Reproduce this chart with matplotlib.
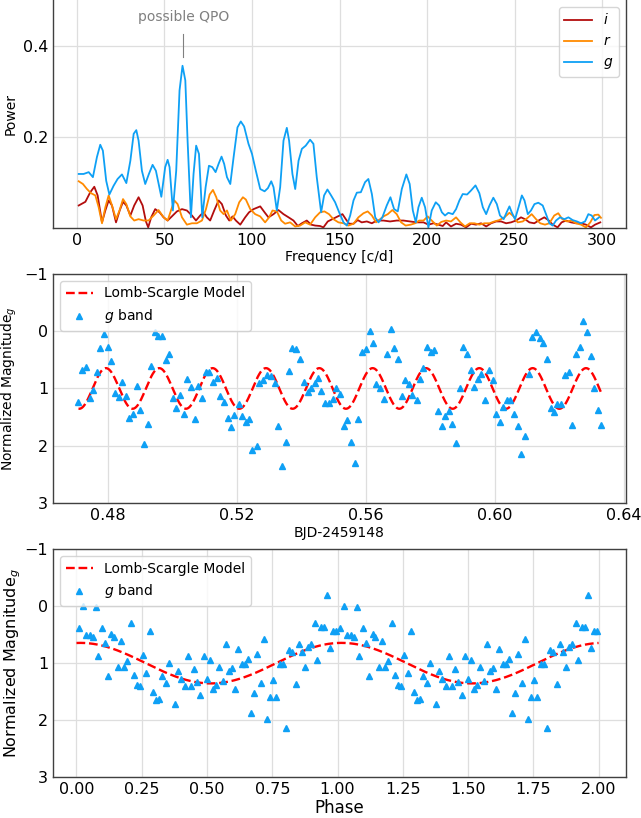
import matplotlib
matplotlib.use('Agg')
import matplotlib.pyplot as plt
import numpy as np

# --- periodogram ---
g_freq = [1, 3.8, 6.7, 9.1, 11.4, 13.3, 14.8, 16.7, 18.5, 20.9, 23.2, 25.7, 28.2, 30.5,
          32.4, 33.9, 35.2, 37.1, 39.0, 41.1, 43.2, 45.1, 48.2, 50.4, 51.8, 52.9, 54.8,
          56.7, 58.6, 60.3, 61.9, 63.2, 65.1, 66.6, 68.1, 69.7, 71.6, 73.5, 75.4, 77.3,
          79.2, 80.9, 82.6, 84.1, 85.7, 87.6, 89.5, 91.7, 93.6, 95.5, 98.0, 100, 102.2,
          104.7, 107.2, 109.1, 111.0, 112.3, 114.2, 116.1, 118.0, 119.9, 121.2, 123.1,
          124.7, 126.6, 128.5, 130.7, 133.2, 135.1, 137.0, 139.5, 141.2, 143.1, 145.2,
          147.5, 149.8, 152.3, 154.2, 156.1, 158.0, 159.9, 162.2, 164.6, 166.5, 168.5,
          170.4, 172.3, 174.5, 177.0, 179.1, 181.2, 183.3, 185.6, 188.2, 190.1, 191.9,
          193.6, 195.1, 197.0, 198.9, 200.8, 202.7, 205.0, 206.9, 208.5, 210.3, 212.2,
          214.7, 216.6, 218.5, 220.4, 222.9, 225.2, 227.7, 229.9, 231.9, 233.8, 235.7,
          237.9, 239.9, 241.7, 243.8, 245.5, 247.1, 248.4, 250.3, 252.3, 254.2, 255.7,
          257.6, 259.4, 261.4, 263.6, 266.1, 268.0, 269.9, 271.8, 273.7, 276.0, 278.5,
          280.8, 283.2, 285.7, 288.0, 290.3, 292.2, 294.1, 296.0, 298.3]
g_power = [0.119, 0.119, 0.123, 0.112, 0.156, 0.183, 0.170, 0.104, 0.074, 0.093, 0.108,
           0.118, 0.099, 0.148, 0.207, 0.215, 0.192, 0.126, 0.097, 0.119, 0.139, 0.126,
           0.069, 0.134, 0.150, 0.134, 0.039, 0.126, 0.302, 0.356, 0.324, 0.192, 0.024,
           0.119, 0.181, 0.163, 0.024, 0.090, 0.137, 0.134, 0.123, 0.141, 0.157, 0.141,
           0.112, 0.097, 0.156, 0.221, 0.234, 0.223, 0.185, 0.163, 0.126, 0.086, 0.081,
           0.088, 0.103, 0.090, 0.039, 0.090, 0.192, 0.220, 0.192, 0.119, 0.086, 0.148,
           0.174, 0.181, 0.194, 0.185, 0.112, 0.035, 0.072, 0.085, 0.072, 0.057, 0.035,
           0.013, 0.006, 0.028, 0.061, 0.078, 0.079, 0.101, 0.108, 0.075, 0.024, 0.013,
           0.024, 0.050, 0.068, 0.042, 0.037, 0.086, 0.118, 0.097, 0.039, 0.013, 0.046,
           0.067, 0.046, 0.002, 0.039, 0.057, 0.050, 0.035, 0.028, 0.034, 0.031, 0.042,
           0.061, 0.075, 0.074, 0.083, 0.094, 0.077, 0.046, 0.031, 0.050, 0.067, 0.053,
           0.028, 0.020, 0.035, 0.048, 0.035, 0.020, 0.046, 0.072, 0.061, 0.031, 0.039,
           0.053, 0.056, 0.050, 0.031, 0.011, 0.006, 0.017, 0.024, 0.020, 0.024, 0.018,
           0.015, 0.011, 0.015, 0.031, 0.028, 0.017, 0.024]

r_freq = [1, 3.4, 5.7, 8.0, 10.5, 12.4, 14.3, 16.2, 18.1, 20.0, 22.3, 24.4, 26.3, 28.2,
          30.5, 32.7, 35.2, 38.1, 40.9, 43.8, 46.6, 49.5, 51.8, 53.7, 55.6, 57.5, 60.0,
          62.8, 65.7, 68.5, 71.4, 73.7, 75.8, 77.7, 79.6, 81.8, 83.8, 85.7, 87.9, 90.4,
          92.7, 94.8, 96.5, 99.0, 101.8, 104.7, 107.5, 109.8, 111.7, 114.2, 116.7, 118.9,
          121.8, 124.7, 127.5, 130.4, 133.2, 136.1, 138.9, 141.4, 144.0, 146.5, 149.4,
          152.3, 155.1, 158.0, 160.8, 163.7, 166.1, 168.5, 170.9, 173.2, 175.1, 177.6,
          180.2, 182.7, 185.2, 187.8, 190.7, 193.2, 195.5, 198.0, 200.4, 202.7, 205.6,
          208.2, 210.9, 213.7, 216.6, 219.1, 221.7, 224.4, 227.1, 229.9, 232.8, 235.7,
          238.5, 241.3, 244.2, 247.1, 249.5, 251.8, 254.7, 257.5, 259.8, 262.3, 264.7,
          267.4, 269.9, 272.7, 275.0, 277.3, 280.0, 282.6, 285.1, 288.0, 290.8, 293.3,
          295.6, 297.9, 299.4]
r_power = [0.103, 0.097, 0.086, 0.077, 0.072, 0.046, 0.011, 0.046, 0.072, 0.050, 0.020,
           0.040, 0.064, 0.053, 0.026, 0.017, 0.020, 0.017, 0.017, 0.028, 0.040, 0.024,
           0.017, 0.039, 0.061, 0.053, 0.024, 0.008, 0.011, 0.011, 0.017, 0.042, 0.074,
           0.084, 0.068, 0.039, 0.031, 0.039, 0.017, 0.031, 0.057, 0.068, 0.063, 0.042,
           0.031, 0.026, 0.013, 0.024, 0.039, 0.037, 0.017, 0.010, 0.013, 0.004, 0.006,
           0.013, 0.008, 0.024, 0.035, 0.037, 0.031, 0.020, 0.013, 0.011, 0.006, 0.010,
           0.024, 0.033, 0.037, 0.028, 0.013, 0.020, 0.026, 0.031, 0.040, 0.031, 0.013,
           0.006, 0.008, 0.011, 0.017, 0.017, 0.026, 0.017, 0.006, 0.014, 0.017, 0.015,
           0.024, 0.013, 0.004, 0.011, 0.011, 0.008, 0.011, 0.011, 0.015, 0.018, 0.024,
           0.034, 0.026, 0.013, 0.015, 0.023, 0.031, 0.020, 0.011, 0.008, 0.011, 0.028,
           0.033, 0.020, 0.015, 0.017, 0.011, 0.008, 0.002, 0.013, 0.029, 0.030, 0.023]

i_freq = [1, 4.8, 7.6, 9.9, 11.8, 14.3, 16.2, 18.1, 20.0, 22.3, 24.4, 26.3, 28.2, 30.5,
          32.7, 35.2, 37.5, 39.4, 40.7, 42.4, 44.7, 47.2, 49.5, 51.8, 54.2, 57.1, 60.0,
          62.8, 65.7, 68.0, 70.4, 72.3, 74.2, 76.1, 78.4, 80.9, 82.8, 85.1, 87.0, 88.9,
          90.8, 93.3, 96.1, 98.3, 100.9, 104.7, 107.2, 109.4, 112.3, 115.1, 118.0, 120.9,
          123.7, 126.2, 128.5, 131.3, 133.8, 136.1, 138.9, 140.8, 143.3, 145.9, 149.0,
          151.7, 153.6, 155.5, 158.0, 160.4, 162.7, 165.6, 168.5, 171.3, 175.1, 178.9,
          182.7, 186.5, 190.3, 194.1, 198.0, 200.8, 203.7, 206.5, 209.0, 210.9, 213.7,
          216.6, 219.4, 222.3, 225.2, 228.0, 230.9, 233.8, 236.6, 239.5, 242.3, 245.2,
          248.0, 250.9, 253.7, 256.0, 258.5, 261.3, 264.2, 267.0, 269.3, 271.8, 274.6,
          276.9, 279.4, 282.3, 285.1, 288.0, 290.8, 293.7, 296.0, 299.0]
i_power = [0.050, 0.058, 0.079, 0.091, 0.072, 0.013, 0.039, 0.061, 0.050, 0.013, 0.039,
           0.058, 0.050, 0.028, 0.050, 0.068, 0.050, 0.015, 0.002, 0.024, 0.042, 0.035,
           0.024, 0.017, 0.026, 0.037, 0.042, 0.039, 0.028, 0.017, 0.028, 0.035, 0.024,
           0.017, 0.039, 0.061, 0.053, 0.028, 0.017, 0.026, 0.017, 0.008, 0.024, 0.035,
           0.042, 0.048, 0.035, 0.024, 0.031, 0.040, 0.031, 0.024, 0.017, 0.005, 0.011,
           0.017, 0.008, 0.006, 0.005, 0.002, 0.015, 0.020, 0.026, 0.031, 0.020, 0.010,
           0.010, 0.018, 0.013, 0.015, 0.011, 0.017, 0.017, 0.015, 0.017, 0.017, 0.015,
           0.013, 0.013, 0.008, 0.011, 0.008, 0.005, 0.013, 0.004, 0.010, 0.008, 0.002,
           0.010, 0.008, 0.011, 0.004, 0.011, 0.015, 0.015, 0.011, 0.013, 0.017, 0.024,
           0.020, 0.013, 0.011, 0.018, 0.024, 0.018, 0.008, 0.002, 0.013, 0.017, 0.013,
           0.011, 0.011, 0.008, 0.002, 0.008, 0.013]

# --- g-band light curve ---
bjd = [0.4709, 0.4719, 0.4732, 0.4744, 0.4754, 0.4766, 0.4776, 0.4788, 0.4800, 0.4810,
       0.4822, 0.4834, 0.4844, 0.4857, 0.4867, 0.4879, 0.4890, 0.4900, 0.4912, 0.4923,
       0.4934, 0.4945, 0.4956, 0.4968, 0.4979, 0.4989, 0.5001, 0.5012, 0.5024, 0.5035,
       0.5046, 0.5058, 0.5069, 0.5080, 0.5093, 0.5103, 0.5115, 0.5126, 0.5137, 0.5149,
       0.5159, 0.5171, 0.5182, 0.5192, 0.5205, 0.5216, 0.5227, 0.5239, 0.5248, 0.5261,
       0.5269,
       0.5280, 0.5293, 0.5305, 0.5317, 0.5328, 0.5339, 0.5351, 0.5362, 0.5372, 0.5384,
       0.5395, 0.5407, 0.5419, 0.5429, 0.5441, 0.5451, 0.5462, 0.5474, 0.5486, 0.5497,
       0.5507, 0.5519, 0.5531, 0.5542, 0.5553, 0.5565, 0.5576, 0.5587, 0.5599, 0.5611,
       0.5621, 0.5632, 0.5643, 0.5655, 0.5666, 0.5677, 0.5688, 0.5699, 0.5711, 0.5722,
       0.5734, 0.5744, 0.5757, 0.5767, 0.5778, 0.5789, 0.5801, 0.5812, 0.5824, 0.5835,
       0.5845, 0.5857, 0.5868, 0.5879,
       0.5891, 0.5902, 0.5914, 0.5925, 0.5935, 0.5947, 0.5958, 0.5970, 0.5981, 0.5993,
       0.6004, 0.6015, 0.6025, 0.6037, 0.6048, 0.6060, 0.6071, 0.6081, 0.6093, 0.6104,
       0.6116, 0.6127, 0.6139, 0.6150, 0.6161, 0.6172, 0.6183, 0.6193, 0.6205, 0.6216,
       0.6229, 0.6240, 0.6250, 0.6262, 0.6273, 0.6285, 0.6296, 0.6307, 0.6319, 0.6330]
mag_g = [1.24, 0.67, 0.63, 1.17, 1.02, 0.71, 0.29, 0.05, 0.27, 0.52,
         1.08, 1.15, 0.88, 1.14, 1.51, 1.45, 0.95, 1.38, 1.97, 1.62,
         0.60, 0.02, 0.08, 0.08, 0.50, 0.39, 1.17, 1.35, 1.11, 1.44,
         0.84, 0.98, 1.53, 0.95, 1.16, 0.72, 0.72, 0.89, 0.82, 1.13,
         1.24, 1.51, 1.67, 1.46, 1.28, 1.48, 1.58, 1.54, 2.08, 2.01,
         0.91,
         0.85, 0.77, 0.78, 0.91, 1.66, 2.35, 1.94, 0.70, 0.29, 0.31,
         0.49, 0.89, 1.07, 1.00, 0.90, 0.81, 1.04, 1.26, 1.26, 1.19,
         1.00, 1.09, 1.66, 1.55, 1.94, 2.30, 1.54, 0.36, 0.31, 0.00,
         0.21, 0.93, 0.99, 1.18, 0.40, -0.04, 0.29, 0.48, 1.14, 0.85,
         0.93, 1.12, 1.20, 0.84, 0.64, 0.27, 0.37, 0.33, 1.40, 1.66,
         1.48, 1.40, 1.62, 1.95,
         1.00, 0.28, 0.39, 0.68, 0.98, 0.84, 0.74, 1.21, 0.67, 0.86,
         1.45, 1.59, 1.33, 1.20, 1.20, 1.45, 1.65, 2.14, 1.83, 0.74,
         0.10, 0.01, 0.11, 0.20, 0.49, 1.34, 1.41, 1.27, 1.27, 0.76,
         0.72, 1.64, 0.40, 0.28, -0.18, 0.01, 0.43, 1.00, 1.38, 1.63]

# --- folded g-band points (one cycle, shown twice) ---
phase_g = [0.011, 0.026, 0.038, 0.050, 0.063, 0.073, 0.084, 0.097, 0.110, 0.121,
           0.134, 0.145, 0.158, 0.171, 0.182, 0.195, 0.208, 0.219, 0.231, 0.244,
           0.256, 0.268, 0.281, 0.292, 0.304, 0.316, 0.329, 0.341, 0.353, 0.378,
           0.389, 0.402, 0.415, 0.426, 0.439, 0.450, 0.463, 0.475, 0.487, 0.500,
           0.512, 0.524, 0.536, 0.547, 0.560, 0.572, 0.584, 0.596, 0.608, 0.620,
           0.633, 0.644, 0.657, 0.670, 0.680, 0.693, 0.705, 0.717, 0.729, 0.741,
           0.754, 0.765, 0.778, 0.791, 0.802, 0.815, 0.827, 0.839, 0.851, 0.864,
           0.876, 0.888, 0.899, 0.912, 0.923, 0.935, 0.948, 0.959, 0.972, 0.982, 0.995]
phase_mag = [0.39, 0.00, 0.51, 0.51, 0.55, 0.02, 0.87, 0.39, 0.64, 1.23,
             0.49, 0.54, 1.06, 0.61, 1.06, 0.96, 0.29, 1.21, 1.38, 1.40,
             0.86, 1.18, 0.44, 1.51, 1.65, 1.62, 1.23, 1.35, 0.99, 1.71,
             1.14, 1.28, 1.40, 0.87, 1.40, 1.11, 1.33, 1.55, 0.88, 1.27,
             0.95, 1.46, 1.38, 1.06, 1.31, 0.67, 1.13, 1.08, 1.45, 0.76,
             1.02, 1.01, 0.93, 1.88, 1.53, 0.84, 1.34, 0.58, 1.98, 1.59,
             1.30, 1.59, 1.02, 1.02, 2.14, 0.77, 0.80, 1.36, 0.67, 0.80,
             1.07, 0.71, 0.67, 0.29, 0.94, 0.37, 0.36, -0.19, 0.74, 0.44, 0.44]

# Lomb-Scargle model parameters (read from the plotted model)
ls_freq = 60.48      # c/d
ls_amp = 0.355
ls_mean = 1.0
ls_tpeak = 0.4794    # time of brightest model point
ls_phpeak = 0.015    # phase of brightest model point

c_i = '#b30d0d'
c_r = '#ff8a00'
c_g = '#0ea0f5'

plt.rcParams.update({
    'font.size': 10,
    'xtick.labelsize': 11.5,
    'ytick.labelsize': 11.5,
    'xtick.major.size': 0,
    'ytick.major.size': 0,
    'axes.edgecolor': '#404040',
    'axes.linewidth': 1.0,
    'grid.color': '#dedede',
    'grid.linewidth': 0.9,
    'legend.fontsize': 10,
})

W, H = 641.0, 818.0
fig = plt.figure(figsize=(W / 100, H / 100), dpi=100)

def box(top, bottom):
    return [53 / W, 1 - bottom / H, 573 / W, (bottom - top) / H]

# periodogram
ax1 = fig.add_axes(box(0, 228.3))
ax1.plot(i_freq, i_power, color=c_i, lw=1.3, label='$i$')
ax1.plot(r_freq, r_power, color=c_r, lw=1.3, label='$r$')
ax1.plot(g_freq, g_power, color=c_g, lw=1.3, label='$g$')
ax1.set_ylim(0, 0.5)
ax1.set_yticks([0.2, 0.4])
ax1.set_xticks(np.arange(0, 301, 50))
ax1.set_xlim(-13.7, 313.7)
ax1.spines['top'].set_visible(False)
ax1.grid(True)
ax1.set_xlabel('Frequency [c/d]', labelpad=1)
ax1.set_ylabel('Power')
ax1.text(60.9, 0.462, 'possible QPO', color='gray', ha='center', va='center', fontsize=10)
ax1.plot([60.3, 60.3], [0.375, 0.426], color='gray', lw=0.8)
ax1.legend(loc='upper right')

# light curve
t = np.array(bjd)
t_model = np.linspace(t.min(), t.max(), 1000)
m_model = ls_mean - ls_amp * np.cos(2 * np.pi * ls_freq * (t_model - ls_tpeak))

ax2 = fig.add_axes(box(274, 502.9))
ax2.plot(t_model, m_model, '--', color='red', lw=1.7, label='Lomb-Scargle Model')
ax2.plot(bjd, mag_g, '^', color=c_g, ms=5, label='$g$ band')
ax2.set_ylim(3, -1)
ax2.set_yticks([-1, 0, 1, 2, 3])
ax2.set_xticks([0.48, 0.52, 0.56, 0.60, 0.64])
ax2.set_xticklabels(['0.48', '0.52', '0.56', '0.60', '0.64'])
ax2.set_xlim(0.4630, 0.6406)
ax2.grid(True)
ax2.set_xlabel('BJD-2459148', labelpad=2)
ax2.set_ylabel('Normalized Magnitude$_g$')
ax2.legend(loc='upper left')

# folded light curve
ph = np.array(phase_g)
pm = np.array(phase_mag)
ph_model = np.linspace(0, 2, 500)
pm_model = ls_mean - ls_amp * np.cos(2 * np.pi * (ph_model - ls_phpeak))

ax3 = fig.add_axes(box(549, 777.3))
ax3.plot(ph_model, pm_model, '--', color='red', lw=1.7, label='Lomb-Scargle Model')
ax3.plot(np.concatenate([ph, ph + 1]), np.concatenate([pm, pm]), '^', color=c_g, ms=5,
         label='$g$ band')
ax3.set_ylim(3, -1)
ax3.set_yticks([-1, 0, 1, 2, 3])
ax3.set_xticks(np.arange(0, 2.01, 0.25))
ax3.set_xticklabels(['%.2f' % v for v in np.arange(0, 2.01, 0.25)])
ax3.set_xlim(-0.09, 2.105)
ax3.grid(True)
ax3.set_xlabel('Phase', fontsize=12, labelpad=1)
ax3.set_ylabel('Normalized Magnitude$_g$', fontsize=11.5, labelpad=1)
ax3.legend(loc='upper left')

fig.savefig('out.png', dpi=100)
